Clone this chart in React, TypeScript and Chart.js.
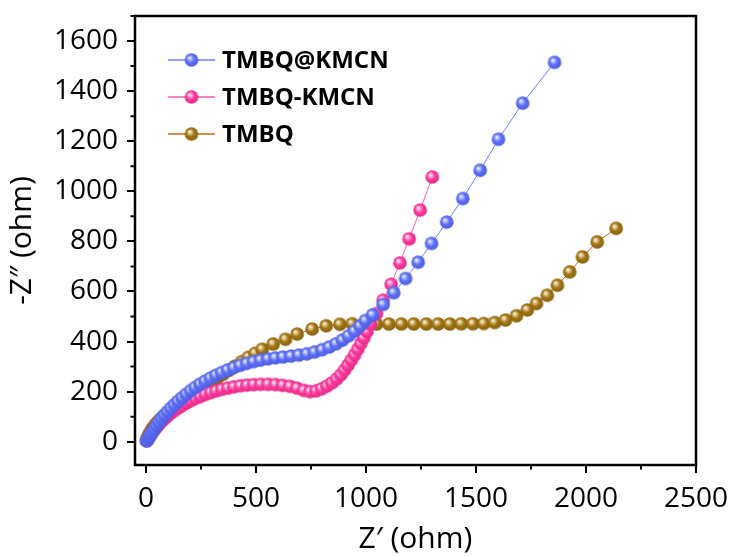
import React, { useEffect, useRef } from "react";
import { Chart, registerables } from "chart.js";
Chart.register(...registerables);

const seriesNames = ["TMBQ@KMCN", "TMBQ-KMCN", "TMBQ"];

const tmbqAtKmcnX = [3, 8, 14, 21, 29, 38, 48, 59, 71, 84, 98, 113, 129, 146, 164, 183, 203, 224, 246, 269, 293, 318, 344, 371, 399, 428, 458, 489, 521, 554, 588, 623, 659, 695, 731, 766, 800, 833, 864, 893, 921, 948, 973, 997, 1030, 1078, 1126, 1180, 1237, 1298, 1367, 1440, 1519, 1602, 1712, 1857];
const tmbqAtKmcnY = [3, 10, 19, 29, 40, 52, 65, 78, 92, 106, 120, 134, 148, 162, 176, 190, 204, 217, 230, 242, 254, 265, 276, 286, 296, 305, 313, 320, 326, 331, 335, 338, 342, 346, 351, 358, 367, 378, 391, 406, 423, 442, 462, 484, 506, 548, 595, 652, 717, 792, 877, 971, 1084, 1208, 1352, 1515];

const tmbqKmcnX = [4, 9, 15, 22, 30, 39, 49, 60, 72, 85, 99, 114, 130, 147, 165, 184, 204, 225, 247, 270, 294, 319, 345, 372, 400, 429, 459, 490, 522, 555, 588, 621, 654, 686, 717, 746, 773, 798, 822, 845, 866, 885, 902, 918, 933, 948, 962, 976, 990, 1004, 1020, 1048, 1078, 1114, 1154, 1196, 1246, 1301];
const tmbqKmcnY = [4, 11, 20, 30, 40, 50, 60, 71, 82, 93, 104, 115, 125, 135, 145, 155, 164, 173, 181, 189, 196, 203, 209, 214, 219, 223, 226, 228, 229, 229, 228, 225, 221, 214, 205, 200, 203, 211, 222, 235, 250, 267, 286, 306, 326, 347, 369, 392, 415, 440, 470, 512, 565, 629, 714, 810, 925, 1057];

const tmbqX = [2, 5, 9, 14, 20, 27, 35, 44, 54, 65, 77, 90, 104, 119, 135, 152, 170, 189, 209, 230, 252, 275, 299, 324, 350, 377, 405, 435, 465, 496, 528, 578, 634, 687, 755, 819, 881, 937, 993, 1048, 1104, 1161, 1217, 1274, 1328, 1381, 1433, 1486, 1535, 1585, 1634, 1684, 1733, 1775, 1824, 1870, 1926, 1984, 2051, 2137];
const tmbqY = [6, 13, 21, 30, 40, 50, 60, 70, 80, 90, 100, 110, 120, 131, 142, 153, 164, 176, 188, 200, 213, 226, 240, 254, 269, 285, 302, 320, 337, 353, 369, 390, 409, 430, 450, 463, 469, 471, 471, 470, 470, 470, 470, 470, 470, 470, 471, 471, 472, 476, 486, 503, 526, 552, 585, 625, 678, 738, 798, 852];

const xTicks = [0, 500, 1000, 1500, 2000, 2500];
const yTicks = [0, 200, 400, 600, 800, 1000, 1200, 1400, 1600];
const xMinor = [250, 750, 1250, 1750, 2250];
const yMinor = [100, 300, 500, 700, 900, 1100, 1300, 1500, 1700];

const lineColors = ["#6E80F8", "#FF5AAE", "#C8691A"];
const ballColors = [
  { base: "#5E70F6", light: "#B8C2FF", dark: "#4C5CE2" },
  { base: "#FF3C9F", light: "#FFB0D6", dark: "#E62A88" },
  { base: "#A47514", light: "#E2CB95", dark: "#86600E" },
];

function makeBall(c: { base: string; light: string; dark: string }, r: number) {
  const size = Math.ceil(r * 2) + 2;
  const cv = document.createElement("canvas");
  cv.width = size;
  cv.height = size;
  const ctx = cv.getContext("2d")!;
  const cx = size / 2;
  const cy = size / 2;
  const g = ctx.createRadialGradient(cx - r * 0.3, cy - r * 0.35, 0, cx - r * 0.05, cy - r * 0.05, r * 1.05);
  g.addColorStop(0, "#ffffff");
  g.addColorStop(0.22, c.light);
  g.addColorStop(0.55, c.base);
  g.addColorStop(1, c.dark);
  ctx.fillStyle = g;
  ctx.beginPath();
  ctx.arc(cx, cy, r, 0, Math.PI * 2);
  ctx.fill();
  return cv;
}

const toPoints = (xs: number[], ys: number[]) => xs.map((x, i) => ({ x, y: ys[i] }));

export default function App() {
  const ref = useRef<HTMLCanvasElement | null>(null);
  useEffect(() => {
    if (!ref.current) return;
    const balls = ballColors.map((c) => makeBall(c, 6.8));
    const framePlugin = {
      id: "frame",
      afterDraw(chart: any) {
        const { ctx, chartArea: a, scales } = chart;
        ctx.save();
        ctx.strokeStyle = "#000";
        ctx.lineWidth = 2.5;
        ctx.strokeRect(a.left, a.top, a.right - a.left, a.bottom - a.top);
        ctx.lineWidth = 2;
        ctx.beginPath();
        yMinor.forEach((v) => {
          const y = scales.y.getPixelForValue(v);
          if (y >= a.top - 1 && y <= a.bottom) {
            ctx.moveTo(a.left, y);
            ctx.lineTo(a.left - 4.5, y);
          }
        });
        xMinor.forEach((v) => {
          const x = scales.x.getPixelForValue(v);
          ctx.moveTo(x, a.bottom);
          ctx.lineTo(x, a.bottom + 4.5);
        });
        ctx.stroke();
        seriesNames.forEach((name, i) => {
          const y = a.top + 44 + i * 37;
          ctx.strokeStyle = lineColors[i];
          ctx.lineWidth = 1.5;
          ctx.beginPath();
          ctx.moveTo(a.left + 33, y);
          ctx.lineTo(a.left + 80, y);
          ctx.stroke();
          const b = balls[i];
          ctx.drawImage(b, a.left + 56.5 - b.width / 2, y - b.height / 2);
          ctx.fillStyle = "#000";
          ctx.font = "bold 24px 'Open Sans'";
          ctx.textBaseline = "middle";
          ctx.textAlign = "left";
          ctx.fillText(name, a.left + 87, y + 1);
        });
        ctx.restore();
      },
    };
    const series = [
      toPoints(tmbqAtKmcnX, tmbqAtKmcnY),
      toPoints(tmbqKmcnX, tmbqKmcnY),
      toPoints(tmbqX, tmbqY),
    ];
    const chart = new Chart(ref.current, {
      type: "scatter",
      data: {
        datasets: series.map((d, i) => ({
          label: seriesNames[i],
          data: d,
          showLine: true,
          borderColor: lineColors[i],
          borderWidth: 1,
          pointStyle: balls[i] as any,
          pointRadius: 7,
          pointHoverRadius: 7,
          backgroundColor: lineColors[i],
        })),
      },
      options: {
        responsive: false,
        animation: false,
        devicePixelRatio: 1,
        layout: { padding: { top: 16, right: 35, left: 0, bottom: 0 } },
        plugins: { legend: { display: false }, tooltip: { enabled: false } },
        scales: {
          x: {
            type: "linear",
            min: -50,
            max: 2500,
            afterFit: (s: any) => {
              s.height = 91;
              s.paddingLeft = 0;
              s.paddingRight = 0;
            },
            afterBuildTicks: (s: any) => {
              s.ticks = xTicks.map((v) => ({ value: v }));
            },
            border: { display: false },
            grid: { drawOnChartArea: false, drawTicks: true, tickLength: 8, color: "#000", lineWidth: 2 },
            ticks: {
              color: "#000",
              font: { family: "'Open Sans'", size: 28 },
              padding: 9,
              maxRotation: 0,
              callback: (v: any) => String(v),
            },
            title: {
              display: true,
              text: "Z\u2032 (ohm)",
              color: "#000",
              font: { family: "'Open Sans'", size: 30, lineHeight: 1.1 },
              padding: { top: 0, bottom: 0 },
            },
          },
          y: {
            type: "linear",
            min: -93,
            max: 1700,
            afterFit: (s: any) => {
              s.width = 135;
              s.paddingTop = 0;
              s.paddingBottom = 0;
            },
            afterBuildTicks: (s: any) => {
              s.ticks = yTicks.map((v) => ({ value: v }));
            },
            border: { display: false },
            grid: { drawOnChartArea: false, drawTicks: true, tickLength: 8, color: "#000", lineWidth: 2 },
            ticks: {
              color: "#000",
              font: { family: "'Open Sans'", size: 28 },
              padding: 9,
              callback: (v: any) => String(v),
            },
            title: {
              display: true,
              text: "-Z\u2033 (ohm)",
              color: "#000",
              font: { family: "'Open Sans'", size: 30, lineHeight: 1.2 },
              padding: { top: 4, bottom: 0 },
            },
          },
        },
      },
      plugins: [framePlugin],
    });
    return () => chart.destroy();
  }, []);
  return (
    <div style={{ position: "fixed", left: 0, top: 0, width: 731, height: 556, background: "#fff" }}>
      <canvas ref={ref} width={731} height={556} />
    </div>
  );
}
